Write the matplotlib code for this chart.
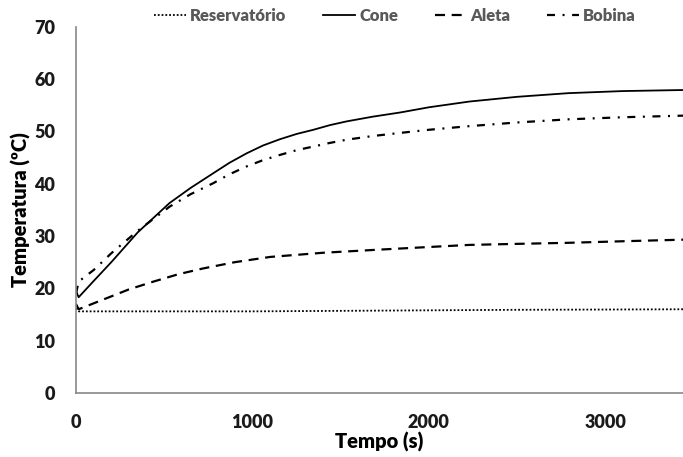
import matplotlib
matplotlib.use("Agg")
import matplotlib.pyplot as plt

# Data
t_res = [0, 15, 500, 1000, 1500, 2000, 2500, 3000, 3440]
reservatorio = [16.2, 15.6, 15.6, 15.6, 15.7, 15.8, 15.9, 15.95, 16.0]

t_cone = [0, 15, 100, 200, 350, 530, 650, 778, 870, 967, 1060, 1156, 1250, 1345, 1440, 1533, 1680, 1836, 2000, 2230, 2500, 2790, 3100, 3440]
cone = [19.5, 18.3, 21.4, 25.0, 30.7, 36.3, 39.2, 42.0, 44.0, 45.8, 47.3, 48.5, 49.5, 50.3, 51.2, 51.9, 52.8, 53.6, 54.6, 55.7, 56.6, 57.3, 57.7, 57.9]

t_aleta = [0, 15, 150, 300, 440, 580, 720, 900, 1100, 1400, 1720, 2000, 2230, 2500, 2790, 3100, 3440]
aleta = [17.0, 16.0, 17.8, 19.8, 21.3, 22.7, 23.8, 25.0, 26.0, 26.8, 27.4, 27.9, 28.3, 28.5, 28.7, 29.0, 29.3]

t_bob = [0, 15, 100, 200, 350, 530, 650, 778, 870, 967, 1060, 1156, 1250, 1345, 1440, 1533, 1680, 1836, 2000, 2230, 2500, 2790, 3100, 3440]
bobina = [19.0, 21.3, 23.5, 26.7, 31.0, 35.6, 38.0, 40.1, 41.8, 43.3, 44.5, 45.5, 46.4, 47.1, 47.8, 48.4, 49.1, 49.7, 50.3, 51.0, 51.7, 52.3, 52.7, 53.0]

x_ticks = [0, 1000, 2000, 3000]
y_ticks = [0, 10, 20, 30, 40, 50, 60, 70]

FONT = "Lato"
WEIGHT = "heavy"

fig = plt.figure(figsize=(6.83, 4.57), dpi=100)
ax = fig.add_axes([76 / 683, 64 / 457, 607 / 683, 366.3 / 457])

ax.plot(t_res, reservatorio, color="black", lw=1.3, linestyle=(0, (1, 1.1)), label="Reservatório")
ax.plot(t_cone, cone, color="black", lw=1.3, linestyle="-", label="Cone")
ax.plot(t_aleta, aleta, color="black", lw=1.6, linestyle=(0, (4.5, 3)), label="Aleta")
ax.plot(t_bob, bobina, color="black", lw=1.6, linestyle=(0, (3.6, 3.4, 0.9, 3.4)), label="Bobina")

ax.set_xlim(0, 3440)
ax.set_ylim(0, 70)
ax.set_xticks(x_ticks)
ax.set_yticks(y_ticks)
ax.tick_params(length=0, labelsize=13, labelcolor="#1a1a1a", pad=15)
for lab in ax.get_xticklabels() + ax.get_yticklabels():
    lab.set_fontfamily(FONT)
    lab.set_fontweight(WEIGHT)

for s in ["top", "right"]:
    ax.spines[s].set_visible(False)
for s in ["left", "bottom"]:
    ax.spines[s].set_color("#888888")
    ax.spines[s].set_linewidth(1.2)

ax.set_xlabel("Tempo (s)", fontfamily=FONT, fontweight=WEIGHT, fontsize=14.5, color="black", labelpad=1)
ax.set_ylabel("Temperatura (ºC)", fontfamily=FONT, fontweight=WEIGHT, fontsize=14.5, color="black", labelpad=2)

leg = fig.legend(loc="center", bbox_to_anchor=(395 / 683, 1 - 16 / 457), ncol=4, frameon=False,
                 handlelength=1.9, handletextpad=0.25, columnspacing=2.2,
                 prop={"family": FONT, "weight": WEIGHT, "size": 12})
for txt in leg.get_texts():
    txt.set_color("#595959")

fig.savefig("out.png", dpi=100)
